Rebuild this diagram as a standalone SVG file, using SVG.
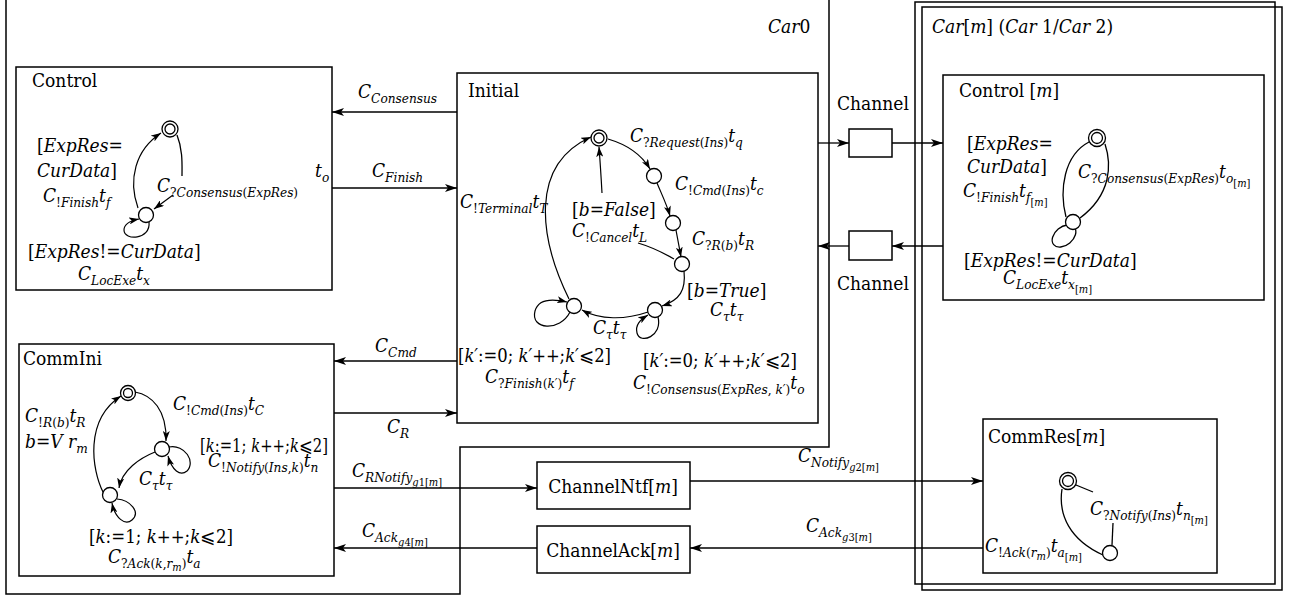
<svg xmlns="http://www.w3.org/2000/svg" width="1292" height="600" viewBox="0 0 1292 600">
<style>
text{font-family:"DejaVu Serif Condensed","DejaVu Serif",serif;font-stretch:condensed;font-size:19px;fill:#000}
.i{font-style:italic}
.s{font-size:13.5px}
.ss{font-size:11px}
.box{fill:none;stroke:#000;stroke-width:1.5}
.ln{fill:none;stroke:#000;stroke-width:1.3}
.arr{fill:none;stroke:#000;stroke-width:1.3;marker-end:url(#a)}
.tr{fill:none;stroke:#000;stroke-width:1.2;marker-end:url(#b)}
.st{fill:#fff;stroke:#000;stroke-width:1.3}
</style>
<defs>
<marker id="a" viewBox="0 0 12 8" refX="12" refY="4" markerWidth="12" markerHeight="8" markerUnits="userSpaceOnUse" orient="auto"><path d="M0,0 L12,4 L0,8 L3,4 Z"/></marker>
<marker id="b" viewBox="0 0 10 7" refX="10" refY="3.5" markerWidth="10" markerHeight="7" markerUnits="userSpaceOnUse" orient="auto"><path d="M0,0 L10,3.5 L0,7 L2.5,3.5 Z"/></marker>
</defs>
<rect width="1292" height="600" fill="#fff"/>

<g id="car0">
<path class="box" d="M6,0 V594 H460 V447 H829 V0"/>
<text x="768" y="33"><tspan class="i">Car</tspan>0</text>
</g>

<g id="carm">
<rect class="box" x="915" y="2" width="360" height="582"/>
<rect class="box" x="922" y="7" width="360" height="583"/>
<text x="932" y="33"><tspan class="i">Car</tspan>[<tspan class="i">m</tspan>] (<tspan class="i">Car</tspan> 1/<tspan class="i">Car</tspan> 2)</text>
</g>

<g id="connectors">
<path class="arr" d="M457,112 H332"/>
<path class="arr" d="M332,188 H457"/>
<path class="arr" d="M818,143 H849"/>
<path class="arr" d="M892,143 H943"/>
<path class="arr" d="M943,246 H892"/>
<path class="arr" d="M849,246 H818"/>
<path class="arr" d="M457,361 H334"/>
<path class="arr" d="M334,413 H457"/>
<path class="arr" d="M334,488 H537"/>
<path class="arr" d="M537,548 H334"/>
<path class="arr" d="M690,481 H983"/>
<path class="arr" d="M983,548 H690"/>
<text x="358" y="98"><tspan class="i">C</tspan><tspan class="s i" dy="5">Consensus</tspan></text>
<text x="372" y="177"><tspan class="i">C</tspan><tspan class="s i" dy="5">Finish</tspan></text>
<text x="375" y="352"><tspan class="i">C</tspan><tspan class="s i" dy="5">Cmd</tspan></text>
<text x="387" y="433"><tspan class="i">C</tspan><tspan class="s i" dy="5">R</tspan></text>
<text x="352" y="477"><tspan class="i">C</tspan><tspan class="s i" dy="5">RNotify</tspan><tspan class="ss" dy="4"><tspan class="i">g</tspan>1[<tspan class="i">m</tspan>]</tspan></text>
<text x="362" y="537"><tspan class="i">C</tspan><tspan class="s i" dy="5">Ack</tspan><tspan class="ss" dy="4"><tspan class="i">g</tspan>4[<tspan class="i">m</tspan>]</tspan></text>
<text x="798" y="462"><tspan class="i">C</tspan><tspan class="s i" dy="5">Notify</tspan><tspan class="ss" dy="4"><tspan class="i">g</tspan>2[<tspan class="i">m</tspan>]</tspan></text>
<text x="806" y="532"><tspan class="i">C</tspan><tspan class="s i" dy="5">Ack</tspan><tspan class="ss" dy="4"><tspan class="i">g</tspan>3[<tspan class="i">m</tspan>]</tspan></text>
</g>

<g id="channel-top">
<rect class="box" x="849" y="129" width="43" height="28"/>
<text x="837" y="110">Channel</text>
</g>
<g id="channel-bottom">
<rect class="box" x="849" y="231" width="43" height="29"/>
<text x="837" y="290">Channel</text>
</g>

<g id="channelntf">
<rect class="box" x="537" y="462" width="153" height="47"/>
<text x="613" y="493" text-anchor="middle">ChannelNtf[<tspan class="i">m</tspan>]</text>
</g>
<g id="channelack">
<rect class="box" x="537" y="526" width="153" height="47"/>
<text x="613" y="557" text-anchor="middle">ChannelAck[<tspan class="i">m</tspan>]</text>
</g>

<g id="control">
<rect class="box" x="16" y="67" width="316" height="223"/>
<text x="32" y="87">Control</text>
<path class="tr" d="M138,208 C128,180 135,150 161,133"/>
<path class="ln" d="M177,135 C183,150 182,165 182,176"/>
<path class="tr" d="M173,195 L154,209"/>
<path class="tr" d="M149,222 C151,240 124,241 124,230 C124,224 129,221 139,219"/>
<circle class="st" cx="170" cy="129" r="8"/>
<circle class="st" cx="170" cy="129" r="5"/>
<circle class="st" cx="146" cy="215" r="7.5"/>
<text x="37" y="152">[<tspan class="i">ExpRes</tspan>=</text>
<text x="37" y="177"><tspan class="i">CurData</tspan>]</text>
<text x="43" y="202"><tspan class="i">C</tspan><tspan class="s" dy="5">!<tspan class="i">Finish</tspan></tspan><tspan class="i" dy="-5">t</tspan><tspan class="s i" dy="5">f</tspan></text>
<text x="157" y="192"><tspan class="i">C</tspan><tspan class="s" dy="5">?<tspan class="i">Consensus</tspan>(<tspan class="i">ExpRes</tspan>)</tspan></text>
<text x="315" y="177"><tspan class="i">t</tspan><tspan class="s i" dy="5">o</tspan></text>
<text x="28" y="258">[<tspan class="i">ExpRes</tspan>!=<tspan class="i">CurData</tspan>]</text>
<text x="78" y="280"><tspan class="i">C</tspan><tspan class="s i" dy="5">LocExe</tspan><tspan class="i" dy="-5">t</tspan><tspan class="s i" dy="5">x</tspan></text>
</g>

<g id="initial">
<rect class="box" x="457" y="73" width="361" height="350"/>
<text x="468" y="97">Initial</text>
<path class="tr" d="M608,139 C625,144 640,152 650,169"/>
<path class="tr" d="M657,183 C662,195 667,205 670,216"/>
<path class="tr" d="M676,230 L681,257"/>
<path class="ln" d="M674,259 Q655,248 638,243"/>
<path class="tr" d="M602,193 C601,175 600,160 599,147"/>
<path class="tr" d="M684,271 C686,290 680,300 662,306"/>
<path class="tr" d="M658,317 C663,336 640,345 637,333 C635,325 640,320 648,315"/>
<path class="tr" d="M648,312 C625,320 600,320 582,310"/>
<path class="tr" d="M570,312 C560,332 530,330 535,311 C538,300 550,298 567,302"/>
<path class="tr" d="M569,299 C540,240 528,165 591,137"/>
<circle class="st" cx="599" cy="138" r="8"/>
<circle class="st" cx="599" cy="138" r="5"/>
<circle class="st" cx="654" cy="176" r="7.5"/>
<circle class="st" cx="673" cy="223" r="7.5"/>
<circle class="st" cx="682" cy="264" r="7.5"/>
<circle class="st" cx="655" cy="310" r="7.5"/>
<circle class="st" cx="574" cy="306" r="7.5"/>
<text x="630" y="142"><tspan class="i">C</tspan><tspan class="s" dy="5">?<tspan class="i">Request</tspan>(<tspan class="i">Ins</tspan>)</tspan><tspan class="i" dy="-5">t</tspan><tspan class="s i" dy="5">q</tspan></text>
<text x="675" y="190"><tspan class="i">C</tspan><tspan class="s" dy="5">!<tspan class="i">Cmd</tspan>(<tspan class="i">Ins</tspan>)</tspan><tspan class="i" dy="-5">t</tspan><tspan class="s i" dy="5">c</tspan></text>
<text x="572" y="216">[<tspan class="i">b</tspan>=<tspan class="i">False</tspan>]</text>
<text x="572" y="237"><tspan class="i">C</tspan><tspan class="s" dy="5">!<tspan class="i">Cancel</tspan></tspan><tspan class="i" dy="-5">t</tspan><tspan class="s i" dy="5">L</tspan></text>
<text x="692" y="245"><tspan class="i">C</tspan><tspan class="s" dy="5">?<tspan class="i">R</tspan>(<tspan class="i">b</tspan>)</tspan><tspan class="i" dy="-5">t</tspan><tspan class="s i" dy="5">R</tspan></text>
<text x="460" y="208"><tspan class="i">C</tspan><tspan class="s" dy="5">!<tspan class="i">Terminal</tspan></tspan><tspan class="i" dy="-5">t</tspan><tspan class="s i" dy="5">T</tspan></text>
<text x="687" y="297">[<tspan class="i">b</tspan>=<tspan class="i">True</tspan>]</text>
<text x="710" y="316"><tspan class="i">C</tspan><tspan class="s i" dy="5">τ</tspan><tspan class="i" dy="-5">t</tspan><tspan class="s i" dy="5">τ</tspan></text>
<text x="593" y="334"><tspan class="i">C</tspan><tspan class="s i" dy="5">τ</tspan><tspan class="i" dy="-5">t</tspan><tspan class="s i" dy="5">τ</tspan></text>
<text x="458" y="362" textLength="153" lengthAdjust="spacingAndGlyphs">[<tspan class="i">k′</tspan>:=0; <tspan class="i">k′</tspan>++;<tspan class="i">k′</tspan>⩽2]</text>
<text x="485" y="383"><tspan class="i">C</tspan><tspan class="s" dy="5">?<tspan class="i">Finish</tspan>(<tspan class="i">k′</tspan>)</tspan><tspan class="i" dy="-5">t</tspan><tspan class="s i" dy="5">f</tspan></text>
<text x="643" y="367" textLength="154" lengthAdjust="spacingAndGlyphs">[<tspan class="i">k′</tspan>:=0; <tspan class="i">k′</tspan>++;<tspan class="i">k′</tspan>⩽2]</text>
<text x="633" y="389"><tspan class="i">C</tspan><tspan class="s" dy="5">!<tspan class="i">Consensus</tspan>(<tspan class="i">ExpRes</tspan>, <tspan class="i">k′</tspan>)</tspan><tspan class="i" dy="-5">t</tspan><tspan class="s i" dy="5">o</tspan></text>
</g>

<g id="commini">
<rect class="box" x="19" y="344" width="315" height="232"/>
<text x="23" y="365">CommIni</text>
<path class="tr" d="M135,392 C152,395 167,410 166,441"/>
<path class="tr" d="M169,447 C185,444 196,462 187,471 C180,477 172,470 168,456"/>
<path class="tr" d="M155,452 C140,458 122,470 119,488"/>
<path class="tr" d="M117,499 C130,500 141,512 132,520 C125,526 115,518 112,503"/>
<path class="tr" d="M103,492 C92,470 84,420 121,396"/>
<circle class="st" cx="128" cy="393" r="7.5"/>
<circle class="st" cx="128" cy="393" r="4.5"/>
<circle class="st" cx="162" cy="449" r="7.5"/>
<circle class="st" cx="110" cy="495" r="7.5"/>
<text x="25" y="422"><tspan class="i">C</tspan><tspan class="s" dy="5">!<tspan class="i">R</tspan>(<tspan class="i">b</tspan>)</tspan><tspan class="i" dy="-5">t</tspan><tspan class="s i" dy="5">R</tspan></text>
<text x="25" y="448"><tspan class="i">b</tspan>=<tspan class="i">V r</tspan><tspan class="s i" dy="5">m</tspan></text>
<text x="173" y="410"><tspan class="i">C</tspan><tspan class="s" dy="5">!<tspan class="i">Cmd</tspan>(<tspan class="i">Ins</tspan>)</tspan><tspan class="i" dy="-5">t</tspan><tspan class="s i" dy="5">C</tspan></text>
<text x="200" y="452" textLength="128" lengthAdjust="spacingAndGlyphs">[<tspan class="i">k</tspan>:=1; <tspan class="i">k</tspan>++;<tspan class="i">k</tspan>⩽2]</text>
<text x="208" y="467"><tspan class="i">C</tspan><tspan class="s" dy="5">!<tspan class="i">Notify</tspan>(<tspan class="i">Ins</tspan>,<tspan class="i">k</tspan>)</tspan><tspan class="i" dy="-5">t</tspan><tspan class="s i" dy="5">n</tspan></text>
<text x="139" y="485"><tspan class="i">C</tspan><tspan class="s i" dy="5">τ</tspan><tspan class="i" dy="-5">t</tspan><tspan class="s i" dy="5">τ</tspan></text>
<text x="89" y="543" textLength="144" lengthAdjust="spacingAndGlyphs">[<tspan class="i">k</tspan>:=1; <tspan class="i">k</tspan>++;<tspan class="i">k</tspan>⩽2]</text>
<text x="108" y="563"><tspan class="i">C</tspan><tspan class="s" dy="5">?<tspan class="i">Ack</tspan>(<tspan class="i">k</tspan>,<tspan class="i">r</tspan><tspan class="ss i" dy="3">m</tspan><tspan dy="-3">)</tspan></tspan><tspan class="i" dy="-5">t</tspan><tspan class="s i" dy="5">a</tspan></text>
</g>

<g id="control-m">
<rect class="box" x="943" y="75" width="321" height="225"/>
<text x="959" y="97">Control [<tspan class="i">m</tspan>]</text>
<path class="ln" d="M1066,217 C1059,190 1064,155 1089,142"/>
<path class="ln" d="M1105,144 C1112,165 1111,195 1080,218"/>
<ellipse class="ln" cx="1064" cy="236" rx="13.5" ry="9" transform="rotate(-40 1064 236)"/>
<circle class="st" cx="1097" cy="138" r="8.5"/>
<circle class="st" cx="1097" cy="138" r="5.5"/>
<circle class="st" cx="1073" cy="222" r="7.5"/>
<text x="967" y="150">[<tspan class="i">ExpRes</tspan>=</text>
<text x="967" y="173"><tspan class="i">CurData</tspan>]</text>
<text x="963" y="197"><tspan class="i">C</tspan><tspan class="s" dy="5">!<tspan class="i">Finish</tspan></tspan><tspan class="i" dy="-5">t</tspan><tspan class="s i" dy="5">f</tspan><tspan class="ss" dy="4">[<tspan class="i">m</tspan>]</tspan></text>
<text x="1078" y="178"><tspan class="i">C</tspan><tspan class="s" dy="5">?<tspan class="i">Consensus</tspan>(<tspan class="i">ExpRes</tspan>)</tspan><tspan class="i" dy="-5">t</tspan><tspan class="s i" dy="5">o</tspan><tspan class="ss" dy="4">[<tspan class="i">m</tspan>]</tspan></text>
<text x="964" y="267">[<tspan class="i">ExpRes</tspan>!=<tspan class="i">CurData</tspan>]</text>
<text x="1003" y="284"><tspan class="i">C</tspan><tspan class="s i" dy="5">LocExe</tspan><tspan class="i" dy="-5">t</tspan><tspan class="s i" dy="5">x</tspan><tspan class="ss" dy="4">[<tspan class="i">m</tspan>]</tspan></text>
</g>

<g id="commres">
<rect class="box" x="983" y="419" width="234" height="154"/>
<text x="988" y="443">CommRes[<tspan class="i">m</tspan>]</text>
<path class="ln" d="M1062,489 C1058,515 1070,540 1103,555"/>
<path class="ln" d="M1076,485 L1093,492"/>
<path class="ln" d="M1113,523 L1112,545"/>
<circle class="st" cx="1068" cy="481" r="8.5"/>
<circle class="st" cx="1068" cy="481" r="5.5"/>
<circle class="st" cx="1110" cy="553" r="7.5"/>
<text x="1090" y="515"><tspan class="i">C</tspan><tspan class="s" dy="5">?<tspan class="i">Notify</tspan>(<tspan class="i">Ins</tspan>)</tspan><tspan class="i" dy="-5">t</tspan><tspan class="s i" dy="5">n</tspan><tspan class="ss" dy="4">[<tspan class="i">m</tspan>]</tspan></text>
<text x="985" y="552"><tspan class="i">C</tspan><tspan class="s" dy="5">!<tspan class="i">Ack</tspan>(<tspan class="i">r</tspan><tspan class="ss i" dy="3">m</tspan><tspan dy="-3">)</tspan></tspan><tspan class="i" dy="-5">t</tspan><tspan class="s i" dy="5">a</tspan><tspan class="ss" dy="4">[<tspan class="i">m</tspan>]</tspan></text>
</g>
</svg>
